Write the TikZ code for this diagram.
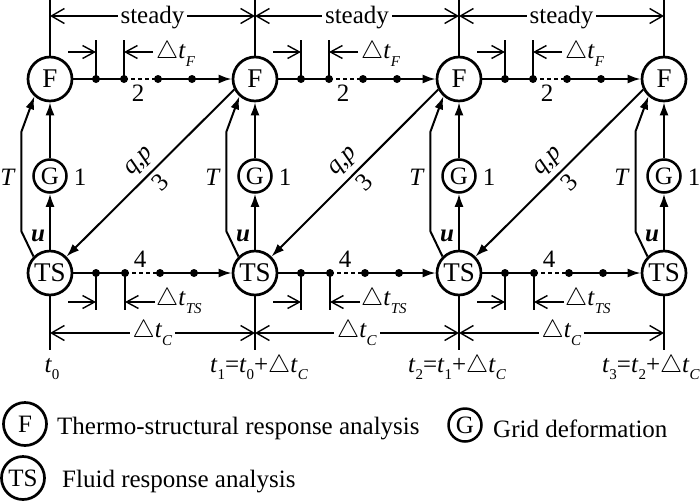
\documentclass[tikz,border=0pt]{standalone}
\usepackage{fontspec}
\setmainfont{Liberation Serif}
\usetikzlibrary{arrows.meta,calc}
\newcommand\tsub[1]{\raisebox{-0.3em}{\fontsize{15}{15}\selectfont #1}}
\newcommand\dtt[1]{$\triangle$\textit{t}\tsub{\textit{#1}}}
\begin{document}
\begin{tikzpicture}[x=1pt,y=-1pt,
  every node/.style={font=\fontsize{25}{30}\selectfont, inner sep=0pt},
  bignode/.style={circle, draw, line width=2.7pt, minimum size=44pt, font=\fontsize{27}{30}\selectfont},
  gnode/.style={circle, draw, line width=2.5pt, minimum size=33pt, font=\fontsize{25}{30}\selectfont},
  conn/.style={line width=2pt, -{Latex[length=13pt,width=9pt]}},
  flow/.style={line width=2pt},
  thinline/.style={line width=1.4pt},
  dim/.style={line width=1.4pt, {Straight Barb[length=13pt,width=15pt]}-{Straight Barb[length=13pt,width=15pt]}},
  sdim/.style={line width=1.4pt, -{Straight Barb[length=12pt,width=13pt]}},
  dot/.style={circle, fill, inner sep=0pt, minimum size=8pt},
  dashseg/.style={line width=1.4pt, dash pattern=on 4pt off 3pt},
]
\useasboundingbox (0,0) rectangle (700,501);

% nodes of each column
\foreach \i/\x in {0/50,1/255,2/459,3/664}{
  \node[bignode] (F\i) at (\x,79) {F};
  \node[gnode] (G\i) at (\x,176) {G};
  \node[bignode] (TS\i) at (\x,273) {TS};
  \draw[conn] (G\i) -- (F\i);
  \draw[conn] (TS\i) -- (G\i);
  \draw[conn] (TS\i.135) -- ++(-12,-25) -- ++(0,-100) -- (F\i.228);
  \node at (\x-42,177) {\textit{T}};
  \node at (\x+30,177) {1};
  \node at (\x-12,236) {\textbf{\textit{u}}};
  \draw[thinline] (F\i.north) -- (\x,0);
  \draw[thinline] (TS\i.south) -- (\x,350);
}

% segments between columns
\foreach \i/\j/\x/\xn in {0/1/50/255,1/2/255/459,2/3/459/664}{
  % F row
  \node[dot] (fa\i) at (\x+46,79) {};
  \node[dot] (fb\i) at (\x+74,79) {};
  \node[dot] (fc\i) at (\x+108,79) {};
  \node[dot] (fd\i) at (\x+142,79) {};
  \draw[flow] (F\i.east) -- (fb\i.center);
  \draw[dashseg] (fb\i.center) -- (fc\i.center);
  \draw[conn] (fc\i.center) -- (F\j.west);
  \draw[thinline] (fa\i.center) -- ++(0,-39);
  \draw[thinline] (fb\i.center) -- ++(0,-39);
  \coordinate (fta\i) at (\x+46,52);
  \coordinate (ftb\i) at (\x+74,52);
  \draw[sdim] ([xshift=-28pt]fta\i) -- (fta\i);
  \draw[sdim] ([xshift=29pt]ftb\i) -- (ftb\i);
  \node[anchor=west] at (\x+106,54) {\dtt{F}};
  \node at (\x+88,93) {2};
  % TS row
  \node[dot] (sa\i) at (\x+46,273) {};
  \node[dot] (sb\i) at (\x+75,273) {};
  \node[dot] (sc\i) at (\x+110,273) {};
  \node[dot] (sd\i) at (\x+144,273) {};
  \draw[flow] (TS\i.east) -- (sb\i.center);
  \draw[dashseg] (sb\i.center) -- (sc\i.center);
  \draw[conn] (sc\i.center) -- (TS\j.west);
  \draw[thinline] (sa\i.center) -- ++(0,37);
  \draw[thinline] (sb\i.center) -- ++(0,37);
  \coordinate (sta\i) at (\x+46,302);
  \coordinate (stb\i) at (\x+75,302);
  \draw[sdim] ([xshift=-28pt]sta\i) -- (sta\i);
  \draw[sdim] ([xshift=30pt]stb\i) -- (stb\i);
  \node[anchor=west] at (\x+106,301) {\dtt{TS}};
  \node at (\x+90,259) {4};
  % dimension lines
  \coordinate (su\i) at (\x,16);
  \coordinate (sv\i) at (\xn,16);
  \draw[dim] (su\i) -- (sv\i) node[midway, fill=white, inner xsep=3pt, yshift=-2pt] {steady};
  \coordinate (cu\i) at (\x,333);
  \coordinate (cv\i) at (\xn,333);
  \draw[dim] (cu\i) -- (cv\i) node[midway, fill=white, inner xsep=3pt] {\dtt{C}};
  % coupling q,p
  \draw[conn] (F\j.207) -- (TS\i.45);
  \path (TS\i.45) -- (F\j.207)
    node[midway, sloped, above=6pt] {\textit{q},\textit{p}}
    node[midway, sloped, below=5pt] {3};
}

% time labels
\node[anchor=base] (t0) at (52,372) {\textit{t}\tsub{0}};
\node[anchor=base] (t1) at (259,372) {\textit{t}\tsub{1}=\textit{t}\tsub{0}+$\triangle$\textit{t}\tsub{\textit{C}}};
\node[anchor=base] (t2) at (457,372) {\textit{t}\tsub{2}=\textit{t}\tsub{1}+$\triangle$\textit{t}\tsub{\textit{C}}};
\node[anchor=base east] (t3) at (700,372) {\textit{t}\tsub{3}=\textit{t}\tsub{2}+$\triangle$\textit{t}\tsub{\textit{C}}};

% legend
\node[bignode, minimum size=43pt, font=\fontsize{25}{30}\selectfont] (LF) at (25,424) {F};
\node[anchor=base west] (LFt) at (57,434) {Thermo-structural response analysis};
\node[bignode, minimum size=43pt, font=\fontsize{25}{30}\selectfont] (LTS) at (23,478) {TS};
\node[anchor=base west] (LTSt) at (62,487) {Fluid response analysis};
\node[gnode] (LG) at (465,425) {G};
\node[anchor=base west] (LGt) at (493,437) {Grid deformation};
\end{tikzpicture}
\end{document}
